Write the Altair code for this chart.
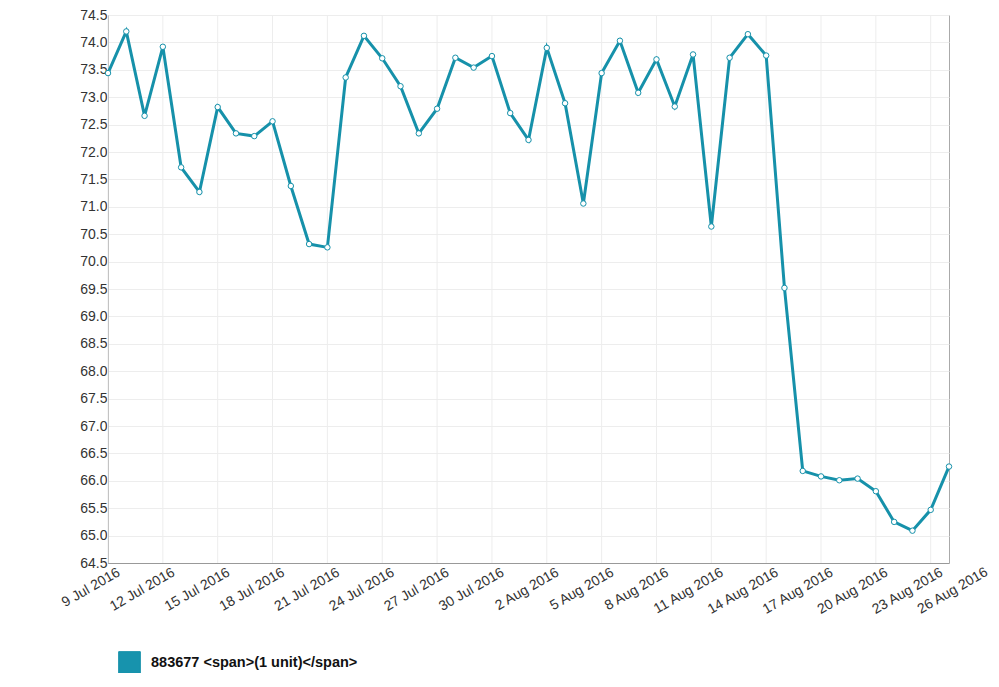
import altair as alt
import pandas as pd

# Daily readings, 9 Jul 2016 .. 24 Aug 2016
days = pd.date_range("2016-07-09", "2016-08-24", freq="D").strftime("%Y-%m-%d").tolist()
readings = [
    73.44, 74.20, 72.66, 73.92, 71.72, 71.27, 72.82, 72.34, 72.29, 72.56,
    71.38, 70.32, 70.26, 73.36, 74.12, 73.71, 73.20, 72.34, 72.79, 73.72,
    73.54, 73.75, 72.71, 72.22, 73.90, 72.89, 71.06, 73.44, 74.03, 73.08,
    73.69, 72.83, 73.78, 70.64, 73.72, 74.15, 73.76, 69.52, 66.18, 66.08,
    66.01, 66.04, 65.81, 65.25, 65.09, 65.47, 66.26,
]
series_name = "883677 <span>(1 unit)</span>"

x_ticks = [
    "2016-07-09", "2016-07-12", "2016-07-15", "2016-07-18", "2016-07-21",
    "2016-07-24", "2016-07-27", "2016-07-30", "2016-08-02", "2016-08-05",
    "2016-08-08", "2016-08-11", "2016-08-14", "2016-08-17", "2016-08-20",
    "2016-08-23", "2016-08-26",
]
y_ticks = [64.5 + 0.5 * i for i in range(21)]

LINE = "#1691aa"
FONT = "Liberation Sans"
W, H = 841, 548

df = pd.DataFrame({"date": days, "value": readings, "series": series_name})
inside = [d for d in x_ticks if d <= days[-1]]
grid_df = pd.DataFrame({"date": inside})
# tick labels past the last day: Vega drops axis ticks outside the range
outside = [d for d in x_ticks if d > days[-1]]
extra_df = pd.DataFrame({
    "date": outside,
    "label": [pd.Timestamp(d).strftime("%-d %b %Y") for d in outside],
})


def as_dt(s):
    y, m, d = (int(p) for p in s.split("-"))
    return alt.DateTime(year=y, month=m, date=d, utc=True)


x_scale = alt.Scale(type="utc", domain=[as_dt(days[0]), as_dt(days[-1])])
y_scale = alt.Scale(domain=[64.5, 74.5], nice=False, zero=False)

vgrid = (
    alt.Chart(grid_df)
    .mark_rule(color="#ededed", strokeWidth=1)
    .encode(x=alt.X("date:T", scale=x_scale))
)

line = (
    alt.Chart(df)
    .mark_line(strokeWidth=3)
    .encode(
        x=alt.X(
            "date:T",
            scale=x_scale,
            title=None,
            axis=alt.Axis(
                values=[as_dt(d) for d in inside],
                tickCount=40,
                format="%-d %b %Y",
                labelAngle=-30,
                labelAlign="right",
                labelBaseline="top",
                labelOffset=7,
                labelPadding=2,
                labelFlush=False,
                labelOverlap=False,
                labelBound=False,
                grid=False,
                ticks=False,
            ),
        ),
        y=alt.Y(
            "value:Q",
            scale=y_scale,
            title=None,
            axis=alt.Axis(
                values=y_ticks,
                tickCount=40,
                format=".1f",
                grid=True,
                ticks=False,
                labelPadding=1,
                labelOverlap=False,
                labelFlush=False,
                labelBound=False,
            ),
        ),
        color=alt.Color(
            "series:N",
            scale=alt.Scale(range=[LINE]),
            legend=alt.Legend(
                title=None,
                orient="none",
                legendX=10,
                legendY=636,
                symbolType="square",
                symbolSize=470,
                symbolFillColor="#1793ad",
                symbolStrokeColor="#333333",
                symbolStrokeWidth=1,
                labelFontSize=14.5,
                labelFontWeight="bold",
                labelColor="#111111",
                labelOffset=10,
                labelFont=FONT,
                labelLimit=400,
            ),
        ),
    )
)

points = (
    alt.Chart(df)
    .mark_point(
        shape="circle", filled=True, fill="white", stroke=LINE,
        strokeWidth=1, size=30, opacity=1,
    )
    .encode(x=alt.X("date:T", scale=x_scale), y=alt.Y("value:Q", scale=y_scale))
)

extra_labels = (
    alt.Chart(extra_df)
    .mark_text(
        angle=330, align="right", baseline="top", dx=-2, dy=-1,
        font=FONT, fontSize=14, color="#333333",
    )
    .encode(
        x=alt.X("date:T", scale=x_scale),
        y=alt.value(H + 2),
        text="label:N",
    )
)

chart = (
    alt.layer(vgrid, line, points, extra_labels)
    .properties(
        width=W,
        height=H,
        autosize=alt.AutoSizeParams(type="none"),
        padding={"left": 100, "top": 7, "right": 42, "bottom": 110},
    )
    .configure_view(stroke="#aaaaaa", strokeWidth=1)
    .configure_axis(
        labelFont=FONT,
        labelFontSize=14,
        labelColor="#333333",
        domainColor="#999999",
        gridColor="#ededed",
    )
)

chart.save("out.html", embed_options={"renderer": "svg", "actions": False})
